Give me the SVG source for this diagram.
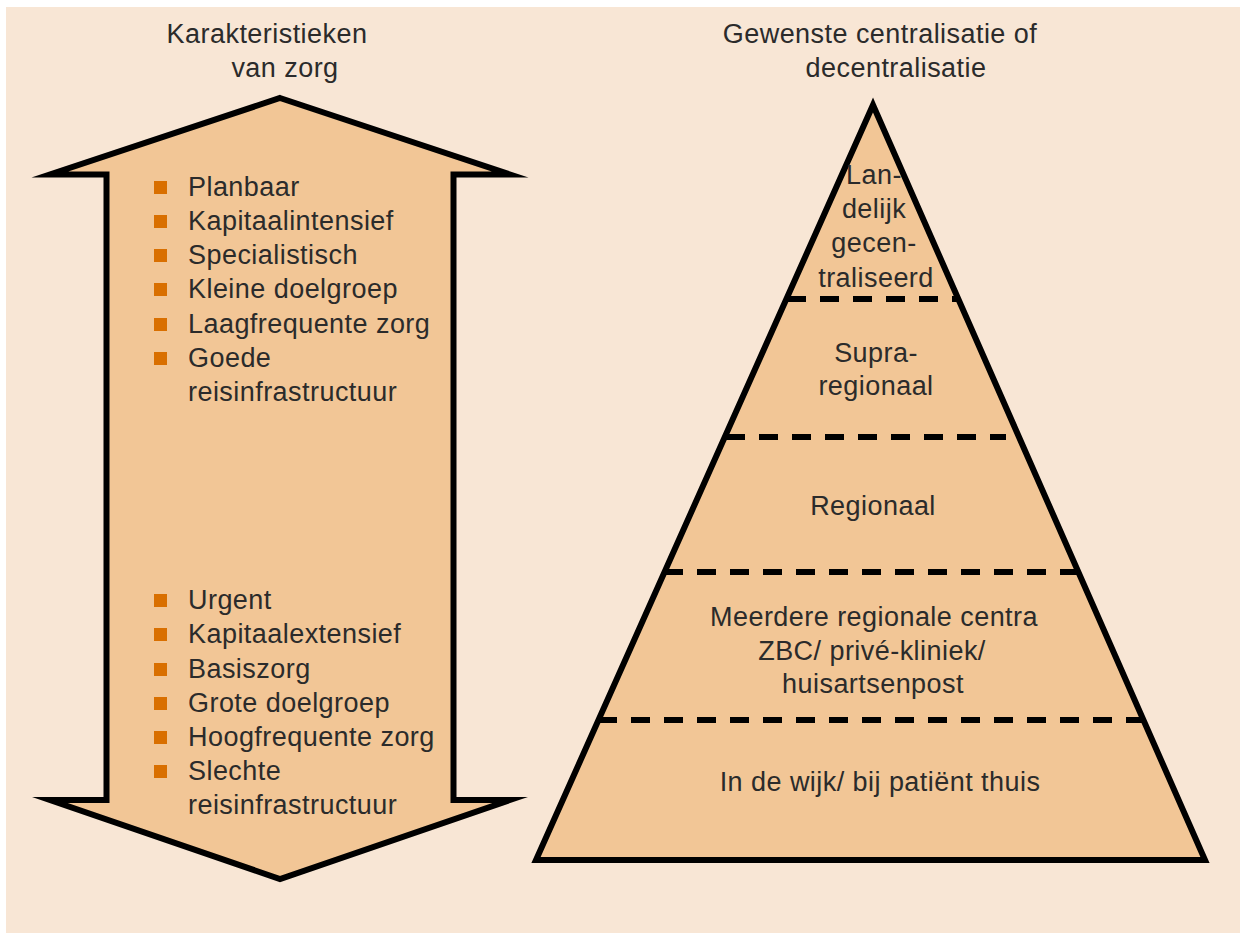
<svg xmlns="http://www.w3.org/2000/svg" width="1247" height="933" viewBox="0 0 1247 933">
<style>
text{font-family:"Liberation Sans",Arial,sans-serif;font-size:27px;fill:#2b2b2b;letter-spacing:0.45px}
.c{text-anchor:middle}
.shape{fill:#F2C696;stroke:#000;stroke-width:6;stroke-linejoin:miter;stroke-miterlimit:10}
.dash{stroke:#000;stroke-width:6;stroke-dasharray:19 14;fill:none}
.b{fill:#D96F00}
</style>
<rect width="1247" height="933" fill="#fff"/>
<rect x="6" y="7" width="1234" height="926" fill="#F8E6D5"/>
<g id="titles">
<text class="c" x="267" y="43">Karakteristieken</text>
<text class="c" x="285" y="77">van zorg</text>
<text class="c" x="880" y="43">Gewenste centralisatie of</text>
<text class="c" x="896" y="77">decentralisatie</text>
</g>
<g id="arrow">
<polygon class="shape" points="280,98 510,174.5 453.5,174.5 453.5,800 510,800 280,879 50,800 106.5,800 106.5,174.5 50,174.5"/>
</g>
<g id="list-top">
<rect class="b" x="154" y="181" width="13" height="13"/><text x="188" y="196">Planbaar</text>
<rect class="b" x="154" y="215" width="13" height="13"/><text x="188" y="230">Kapitaalintensief</text>
<rect class="b" x="154" y="249" width="13" height="13"/><text x="188" y="264">Specialistisch</text>
<rect class="b" x="154" y="283" width="13" height="13"/><text x="188" y="298">Kleine doelgroep</text>
<rect class="b" x="154" y="318" width="13" height="13"/><text x="188" y="333">Laagfrequente zorg</text>
<rect class="b" x="154" y="352" width="13" height="13"/><text x="188" y="367">Goede</text>
<text x="188" y="401">reisinfrastructuur</text>
</g>
<g id="list-bottom">
<rect class="b" x="154" y="594" width="13" height="13"/><text x="188" y="609">Urgent</text>
<rect class="b" x="154" y="628" width="13" height="13"/><text x="188" y="643">Kapitaalextensief</text>
<rect class="b" x="154" y="663" width="13" height="13"/><text x="188" y="678">Basiszorg</text>
<rect class="b" x="154" y="697" width="13" height="13"/><text x="188" y="712">Grote doelgroep</text>
<rect class="b" x="154" y="731" width="13" height="13"/><text x="188" y="746">Hoogfrequente zorg</text>
<rect class="b" x="154" y="765" width="13" height="13"/><text x="188" y="780">Slechte</text>
<text x="188" y="814">reisinfrastructuur</text>
</g>
<g id="pyramid">
<polygon class="shape" points="873,105 1205,860 536,860"/>
</g>
<g id="connectors">
<line class="dash" x1="787" y1="299" x2="960" y2="299"/>
<line class="dash" x1="726" y1="437" x2="1006" y2="437"/>
<line class="dash" x1="664" y1="572" x2="1078" y2="572"/>
<line class="dash" x1="598" y1="720" x2="1145" y2="720"/>
</g>
<g id="level-1">
<text class="c" x="874" y="184">Lan-</text>
<text class="c" x="874" y="218">delijk</text>
<text class="c" x="874" y="252">gecen-</text>
<text class="c" x="876" y="287">traliseerd</text>
</g>
<g id="level-2">
<text class="c" x="876" y="362">Supra-</text>
<text class="c" x="876" y="395">regionaal</text>
</g>
<g id="level-3">
<text class="c" x="873" y="515">Regionaal</text>
</g>
<g id="level-4">
<text class="c" x="874" y="626">Meerdere regionale centra</text>
<text class="c" x="872" y="660">ZBC/ privé-kliniek/</text>
<text class="c" x="873" y="693">huisartsenpost</text>
</g>
<g id="level-5">
<text class="c" x="880" y="791">In de wijk/ bij patiënt thuis</text>
</g>
</svg>
